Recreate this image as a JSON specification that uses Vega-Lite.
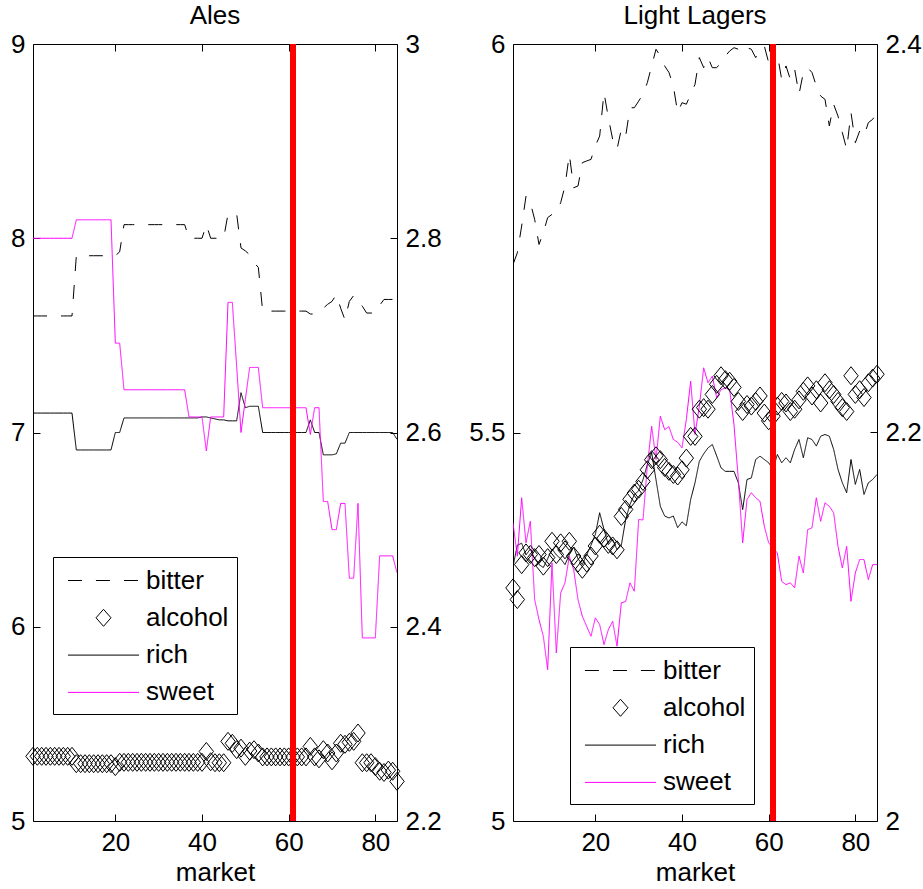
{
"$schema": "https://vega.github.io/schema/vega-lite/v6.json",
"padding": {"left": 10, "top": 3, "right": 5, "bottom": 5},
"bounds": "flush",
"spacing": 116,
"resolve": {"scale": {"color": "independent"}, "legend": {"color": "independent"}},
"datasets": {
"ales": [
{"m":1,"bitter":2.72,"alcohol":5.333,"rich":2.62,"sweet":2.8},
{"m":2,"bitter":2.72,"alcohol":5.333,"rich":2.62,"sweet":2.8},
{"m":3,"bitter":2.72,"alcohol":5.333,"rich":2.62,"sweet":2.8},
{"m":4,"bitter":2.72,"alcohol":5.333,"rich":2.62,"sweet":2.8},
{"m":5,"bitter":2.72,"alcohol":5.333,"rich":2.62,"sweet":2.8},
{"m":6,"bitter":2.72,"alcohol":5.333,"rich":2.62,"sweet":2.8},
{"m":7,"bitter":2.72,"alcohol":5.333,"rich":2.62,"sweet":2.8},
{"m":8,"bitter":2.72,"alcohol":5.333,"rich":2.62,"sweet":2.8},
{"m":9,"bitter":2.72,"alcohol":5.333,"rich":2.62,"sweet":2.8},
{"m":10,"bitter":2.72,"alcohol":5.333,"rich":2.62,"sweet":2.8},
{"m":11,"bitter":2.782,"alcohol":5.295,"rich":2.582,"sweet":2.819},
{"m":12,"bitter":2.782,"alcohol":5.295,"rich":2.582,"sweet":2.819},
{"m":13,"bitter":2.782,"alcohol":5.295,"rich":2.582,"sweet":2.819},
{"m":14,"bitter":2.782,"alcohol":5.295,"rich":2.582,"sweet":2.819},
{"m":15,"bitter":2.782,"alcohol":5.295,"rich":2.582,"sweet":2.819},
{"m":16,"bitter":2.782,"alcohol":5.295,"rich":2.582,"sweet":2.819},
{"m":17,"bitter":2.782,"alcohol":5.295,"rich":2.582,"sweet":2.819},
{"m":18,"bitter":2.782,"alcohol":5.295,"rich":2.582,"sweet":2.819},
{"m":19,"bitter":2.782,"alcohol":5.295,"rich":2.582,"sweet":2.819},
{"m":20,"bitter":2.782,"alcohol":5.28,"rich":2.6,"sweet":2.692},
{"m":21,"bitter":2.786,"alcohol":5.302,"rich":2.6,"sweet":2.692},
{"m":22,"bitter":2.814,"alcohol":5.302,"rich":2.615,"sweet":2.644},
{"m":23,"bitter":2.814,"alcohol":5.302,"rich":2.615,"sweet":2.644},
{"m":24,"bitter":2.814,"alcohol":5.302,"rich":2.615,"sweet":2.644},
{"m":25,"bitter":2.814,"alcohol":5.302,"rich":2.615,"sweet":2.644},
{"m":26,"bitter":2.814,"alcohol":5.302,"rich":2.615,"sweet":2.644},
{"m":27,"bitter":2.814,"alcohol":5.302,"rich":2.615,"sweet":2.644},
{"m":28,"bitter":2.814,"alcohol":5.302,"rich":2.615,"sweet":2.644},
{"m":29,"bitter":2.814,"alcohol":5.302,"rich":2.615,"sweet":2.644},
{"m":30,"bitter":2.814,"alcohol":5.302,"rich":2.615,"sweet":2.644},
{"m":31,"bitter":2.814,"alcohol":5.302,"rich":2.615,"sweet":2.644},
{"m":32,"bitter":2.814,"alcohol":5.302,"rich":2.615,"sweet":2.644},
{"m":33,"bitter":2.814,"alcohol":5.302,"rich":2.615,"sweet":2.644},
{"m":34,"bitter":2.814,"alcohol":5.302,"rich":2.615,"sweet":2.644},
{"m":35,"bitter":2.814,"alcohol":5.302,"rich":2.615,"sweet":2.644},
{"m":36,"bitter":2.814,"alcohol":5.302,"rich":2.615,"sweet":2.644},
{"m":37,"bitter":2.8,"alcohol":5.302,"rich":2.615,"sweet":2.616},
{"m":38,"bitter":2.8,"alcohol":5.302,"rich":2.615,"sweet":2.616},
{"m":39,"bitter":2.8,"alcohol":5.302,"rich":2.615,"sweet":2.616},
{"m":40,"bitter":2.8,"alcohol":5.302,"rich":2.616,"sweet":2.616},
{"m":41,"bitter":2.814,"alcohol":5.358,"rich":2.616,"sweet":2.581},
{"m":42,"bitter":2.8,"alcohol":5.305,"rich":2.615,"sweet":2.616},
{"m":43,"bitter":2.8,"alcohol":5.3,"rich":2.614,"sweet":2.616},
{"m":44,"bitter":2.8,"alcohol":5.3,"rich":2.613,"sweet":2.616},
{"m":45,"bitter":2.8,"alcohol":5.3,"rich":2.613,"sweet":2.616},
{"m":46,"bitter":2.825,"alcohol":5.41,"rich":2.612,"sweet":2.734},
{"m":47,"bitter":2.825,"alcohol":5.4,"rich":2.612,"sweet":2.734},
{"m":48,"bitter":2.825,"alcohol":5.367,"rich":2.612,"sweet":2.668},
{"m":49,"bitter":2.79,"alcohol":5.375,"rich":2.641,"sweet":2.6},
{"m":50,"bitter":2.787,"alcohol":5.333,"rich":2.6255,"sweet":2.634},
{"m":51,"bitter":2.783,"alcohol":5.36,"rich":2.627,"sweet":2.667},
{"m":52,"bitter":2.775,"alcohol":5.367,"rich":2.627,"sweet":2.667},
{"m":53,"bitter":2.77,"alcohol":5.35,"rich":2.627,"sweet":2.667},
{"m":54,"bitter":2.725,"alcohol":5.33,"rich":2.6,"sweet":2.6255},
{"m":55,"bitter":2.725,"alcohol":5.33,"rich":2.6,"sweet":2.6255},
{"m":56,"bitter":2.725,"alcohol":5.33,"rich":2.6,"sweet":2.6255},
{"m":57,"bitter":2.725,"alcohol":5.33,"rich":2.6,"sweet":2.6255},
{"m":58,"bitter":2.725,"alcohol":5.33,"rich":2.6,"sweet":2.6255},
{"m":59,"bitter":2.725,"alcohol":5.33,"rich":2.6,"sweet":2.6255},
{"m":60,"bitter":2.725,"alcohol":5.33,"rich":2.6,"sweet":2.6255},
{"m":61,"bitter":2.725,"alcohol":5.33,"rich":2.6,"sweet":2.6255},
{"m":62,"bitter":2.725,"alcohol":5.33,"rich":2.6,"sweet":2.6255},
{"m":63,"bitter":2.725,"alcohol":5.33,"rich":2.6,"sweet":2.6255},
{"m":64,"bitter":2.725,"alcohol":5.33,"rich":2.6,"sweet":2.6255},
{"m":65,"bitter":2.722,"alcohol":5.384,"rich":2.613,"sweet":2.598},
{"m":66,"bitter":2.722,"alcohol":5.33,"rich":2.6,"sweet":2.6255},
{"m":67,"bitter":2.725,"alcohol":5.32,"rich":2.6,"sweet":2.6255},
{"m":68,"bitter":2.728,"alcohol":5.367,"rich":2.577,"sweet":2.529},
{"m":69,"bitter":2.732,"alcohol":5.35,"rich":2.577,"sweet":2.529},
{"m":70,"bitter":2.735,"alcohol":5.31,"rich":2.577,"sweet":2.5},
{"m":71,"bitter":2.742,"alcohol":5.35,"rich":2.578,"sweet":2.5},
{"m":72,"bitter":2.728,"alcohol":5.4,"rich":2.589,"sweet":2.527},
{"m":73,"bitter":2.716,"alcohol":5.395,"rich":2.589,"sweet":2.527},
{"m":74,"bitter":2.735,"alcohol":5.405,"rich":2.6,"sweet":2.45},
{"m":75,"bitter":2.741,"alcohol":5.41,"rich":2.6,"sweet":2.45},
{"m":76,"bitter":2.738,"alcohol":5.453,"rich":2.6,"sweet":2.527},
{"m":77,"bitter":2.73,"alcohol":5.3,"rich":2.6,"sweet":2.3885},
{"m":78,"bitter":2.723,"alcohol":5.3,"rich":2.6,"sweet":2.3885},
{"m":79,"bitter":2.723,"alcohol":5.3,"rich":2.6,"sweet":2.3885},
{"m":80,"bitter":2.723,"alcohol":5.28,"rich":2.6,"sweet":2.3885},
{"m":81,"bitter":2.731,"alcohol":5.256,"rich":2.6,"sweet":2.473},
{"m":82,"bitter":2.737,"alcohol":5.25,"rich":2.6,"sweet":2.473},
{"m":83,"bitter":2.737,"alcohol":5.262,"rich":2.6,"sweet":2.473},
{"m":84,"bitter":2.737,"alcohol":5.256,"rich":2.6,"sweet":2.473},
{"m":85,"bitter":2.728,"alcohol":5.204,"rich":2.593,"sweet":2.4555}
],
"lagers": [
{"m":1,"bitter":2.2865,"alcohol":5.3,"rich":2.131,"sweet":2.1535},
{"m":2,"bitter":2.2925,"alcohol":5.285,"rich":2.142,"sweet":2.1363},
{"m":3,"bitter":2.3063,"alcohol":5.33,"rich":2.143,"sweet":2.1664},
{"m":4,"bitter":2.3217,"alcohol":5.345,"rich":2.137,"sweet":2.1432},
{"m":5,"bitter":2.3183,"alcohol":5.343,"rich":2.14,"sweet":2.1543},
{"m":6,"bitter":2.3097,"alcohol":5.339,"rich":2.135,"sweet":2.114},
{"m":7,"bitter":2.2968,"alcohol":5.343,"rich":2.132,"sweet":2.1037},
{"m":8,"bitter":2.3029,"alcohol":5.328,"rich":2.1305,"sweet":2.0951},
{"m":9,"bitter":2.3106,"alcohol":5.339,"rich":2.135,"sweet":2.0779},
{"m":10,"bitter":2.3123,"alcohol":5.36,"rich":2.14,"sweet":2.1329},
{"m":11,"bitter":2.3132,"alcohol":5.343,"rich":2.137,"sweet":2.0865},
{"m":12,"bitter":2.3183,"alcohol":5.358,"rich":2.135,"sweet":2.1174},
{"m":13,"bitter":2.3269,"alcohol":5.349,"rich":2.132,"sweet":2.1226},
{"m":14,"bitter":2.3432,"alcohol":5.36,"rich":2.137,"sweet":2.1363},
{"m":15,"bitter":2.326,"alcohol":5.341,"rich":2.141,"sweet":2.1294},
{"m":16,"bitter":2.3269,"alcohol":5.332,"rich":2.135,"sweet":2.114},
{"m":17,"bitter":2.3389,"alcohol":5.324,"rich":2.132,"sweet":2.1054},
{"m":18,"bitter":2.3398,"alcohol":5.332,"rich":2.137,"sweet":2.1002},
{"m":19,"bitter":2.3406,"alcohol":5.341,"rich":2.142,"sweet":2.0951},
{"m":20,"bitter":2.3475,"alcohol":5.354,"rich":2.1475,"sweet":2.1046},
{"m":21,"bitter":2.3526,"alcohol":5.369,"rich":2.1587,"sweet":2.1011},
{"m":22,"bitter":2.375,"alcohol":5.364,"rich":2.15,"sweet":2.0908},
{"m":23,"bitter":2.3621,"alcohol":5.356,"rich":2.1423,"sweet":2.0985},
{"m":24,"bitter":2.3509,"alcohol":5.354,"rich":2.145,"sweet":2.1028},
{"m":25,"bitter":2.3458,"alcohol":5.349,"rich":2.1397,"sweet":2.09},
{"m":26,"bitter":2.3561,"alcohol":5.392,"rich":2.142,"sweet":2.1123},
{"m":27,"bitter":2.3526,"alcohol":5.401,"rich":2.1552,"sweet":2.113},
{"m":28,"bitter":2.3672,"alcohol":5.414,"rich":2.163,"sweet":2.1226},
{"m":29,"bitter":2.3672,"alcohol":5.422,"rich":2.168,"sweet":2.1183},
{"m":30,"bitter":2.3706,"alcohol":5.427,"rich":2.17,"sweet":2.1552},
{"m":31,"bitter":2.3741,"alcohol":5.437,"rich":2.1757,"sweet":2.155},
{"m":32,"bitter":2.3801,"alcohol":5.452,"rich":2.1835,"sweet":2.1827},
{"m":33,"bitter":2.3887,"alcohol":5.465,"rich":2.1895,"sweet":2.2032},
{"m":34,"bitter":2.3973,"alcohol":5.47,"rich":2.1757,"sweet":2.1861},
{"m":35,"bitter":2.3938,"alcohol":5.465,"rich":2.162,"sweet":2.2084},
{"m":36,"bitter":2.3887,"alcohol":5.455,"rich":2.157,"sweet":2.2015},
{"m":37,"bitter":2.3853,"alcohol":5.45,"rich":2.156,"sweet":2.203},
{"m":38,"bitter":2.3784,"alcohol":5.446,"rich":2.157,"sweet":2.1964},
{"m":39,"bitter":2.3647,"alcohol":5.444,"rich":2.151,"sweet":2.195},
{"m":40,"bitter":2.3698,"alcohol":5.452,"rich":2.154,"sweet":2.1921},
{"m":41,"bitter":2.369,"alcohol":5.467,"rich":2.152,"sweet":2.2067},
{"m":42,"bitter":2.3741,"alcohol":5.495,"rich":2.1655,"sweet":2.2264},
{"m":43,"bitter":2.3792,"alcohol":5.495,"rich":2.1741,"sweet":2.199},
{"m":44,"bitter":2.393,"alcohol":5.53,"rich":2.1852,"sweet":2.2135},
{"m":45,"bitter":2.3878,"alcohol":5.532,"rich":2.189,"sweet":2.2333},
{"m":46,"bitter":2.393,"alcohol":5.53,"rich":2.1921,"sweet":2.2256},
{"m":47,"bitter":2.3878,"alcohol":5.549,"rich":2.1938,"sweet":2.229},
{"m":48,"bitter":2.3878,"alcohol":5.562,"rich":2.188,"sweet":2.2179},
{"m":49,"bitter":2.3904,"alcohol":5.573,"rich":2.1818,"sweet":2.222},
{"m":50,"bitter":2.3938,"alcohol":5.568,"rich":2.18,"sweet":2.223},
{"m":51,"bitter":2.3964,"alcohol":5.566,"rich":2.18,"sweet":2.222},
{"m":52,"bitter":2.3981,"alcohol":5.558,"rich":2.18,"sweet":2.204},
{"m":53,"bitter":2.3973,"alcohol":5.54,"rich":2.1741,"sweet":2.1758},
{"m":54,"bitter":2.3956,"alcohol":5.527,"rich":2.1603,"sweet":2.1432},
{"m":55,"bitter":2.3981,"alcohol":5.536,"rich":2.1758,"sweet":2.1655},
{"m":56,"bitter":2.3973,"alcohol":5.534,"rich":2.1766,"sweet":2.169},
{"m":57,"bitter":2.393,"alcohol":5.54,"rich":2.1861,"sweet":2.1664},
{"m":58,"bitter":2.3973,"alcohol":5.547,"rich":2.1878,"sweet":2.1646},
{"m":59,"bitter":2.399,"alcohol":5.525,"rich":2.1861,"sweet":2.1517},
{"m":60,"bitter":2.3904,"alcohol":5.515,"rich":2.1844,"sweet":2.1432},
{"m":61,"bitter":2.4,"alcohol":5.521,"rich":2.181,"sweet":2.1406},
{"m":62,"bitter":2.3947,"alcohol":5.534,"rich":2.1887,"sweet":2.138},
{"m":63,"bitter":2.3818,"alcohol":5.54,"rich":2.1844,"sweet":2.1234},
{"m":64,"bitter":2.3887,"alcohol":5.538,"rich":2.187,"sweet":2.1217},
{"m":65,"bitter":2.3818,"alcohol":5.527,"rich":2.1844,"sweet":2.1226},
{"m":66,"bitter":2.387,"alcohol":5.53,"rich":2.1913,"sweet":2.12},
{"m":67,"bitter":2.3741,"alcohol":5.542,"rich":2.1964,"sweet":2.1363},
{"m":68,"bitter":2.3853,"alcohol":5.553,"rich":2.187,"sweet":2.1277},
{"m":69,"bitter":2.3878,"alcohol":5.56,"rich":2.1973,"sweet":2.15},
{"m":70,"bitter":2.3853,"alcohol":5.547,"rich":2.1964,"sweet":2.1509},
{"m":71,"bitter":2.3784,"alcohol":5.555,"rich":2.193,"sweet":2.1664},
{"m":72,"bitter":2.3732,"alcohol":5.538,"rich":2.1981,"sweet":2.1543},
{"m":73,"bitter":2.3715,"alcohol":5.564,"rich":2.199,"sweet":2.1638},
{"m":74,"bitter":2.3578,"alcohol":5.555,"rich":2.1981,"sweet":2.162},
{"m":75,"bitter":2.3689,"alcohol":5.549,"rich":2.1913,"sweet":2.1587},
{"m":76,"bitter":2.3629,"alcohol":5.54,"rich":2.181,"sweet":2.1414},
{"m":77,"bitter":2.3544,"alcohol":5.532,"rich":2.1741,"sweet":2.1303},
{"m":78,"bitter":2.3458,"alcohol":5.527,"rich":2.169,"sweet":2.1414},
{"m":79,"bitter":2.3647,"alcohol":5.573,"rich":2.1861,"sweet":2.1131},
{"m":80,"bitter":2.3492,"alcohol":5.549,"rich":2.1733,"sweet":2.1277},
{"m":81,"bitter":2.3552,"alcohol":5.555,"rich":2.181,"sweet":2.1346},
{"m":82,"bitter":2.3526,"alcohol":5.545,"rich":2.1681,"sweet":2.1346},
{"m":83,"bitter":2.3595,"alcohol":5.564,"rich":2.1741,"sweet":2.1243},
{"m":84,"bitter":2.3612,"alcohol":5.57,"rich":2.1758,"sweet":2.132},
{"m":85,"bitter":2.3647,"alcohol":5.575,"rich":2.1784,"sweet":2.132}
]
},
"hconcat": [
{
"title": {"text": "Ales", "offset": 2},
"width": 364, "height": 777,
"data": {"name": "ales"},
"layer": [
{
"transform": [{"fold": ["bitter", "rich", "sweet"], "as": ["series", "value"]}],
"mark": {"type": "line", "strokeWidth": 1, "clip": true},
"encoding": {
"x": {"field": "m", "type": "quantitative", "scale": {"domain": [1, 85], "nice": false, "zero": false}, "axis": {"orient": "bottom", "values": [20, 40, 60, 80], "title": "market"}},
"y": {"field": "value", "type": "quantitative", "scale": {"domain": [2.2, 3], "nice": false, "zero": false}, "axis": {"orient": "right", "values": [2.2, 2.4, 2.6, 2.8, 3], "format": "~g", "title": null}},
"color": {"field": "series", "type": "nominal", "scale": {"domain": ["bitter", "alcohol", "rich", "sweet"], "range": ["black", "black", "black", "#ff00ff"]},
"legend": {"orient": "none", "legendX": 20, "legendY": 513, "title": null, "strokeColor": "black", "fillColor": "white", "padding": 8, "labelFontSize": 26, "labelLimit": 400, "symbolSize": 900, "symbolStrokeWidth": 1, "symbolType": "stroke", "rowPadding": 8.3, "symbolOffset": 27, "labelOffset": 27,
"encode": {"symbols": {"update": {"shape": {"signal": "datum.value === 'alcohol' ? 'M-0.5,0L0,-0.567L0.5,0L0,0.567Z' : 'M-2.37,0L2.37,0'"}, "strokeDash": {"signal": "datum.value === 'bitter' ? [14,14] : []"}, "fill": {"value": "transparent"}}}}}},
"strokeDash": {"field": "series", "type": "nominal", "scale": {"domain": ["bitter", "rich", "sweet"], "range": [[14, 14], [1, 0], [1, 0]]}, "legend": null}
}
},
{
"mark": {"type": "point", "shape": "M-0.8,0L0,-1L0.8,0L0,1Z", "size": 324, "filled": false, "color": "black", "strokeWidth": 1, "opacity": 1},
"encoding": {
"x": {"field": "m", "type": "quantitative", "axis": null},
"y": {"field": "alcohol", "type": "quantitative", "scale": {"domain": [5, 9], "nice": false, "zero": false}, "axis": {"orient": "left", "values": [5, 6, 7, 8, 9], "format": "~g", "title": null}}
}
},
{
"mark": {"type": "rule", "color": "#ff0000", "strokeWidth": 5},
"encoding": {"x": {"datum": 61, "type": "quantitative", "axis": {"orient": "top", "values": [20, 40, 60, 80], "labels": false, "title": null}}}
}
],
"resolve": {"scale": {"y": "independent"}, "axis": {"y": "independent", "x": "independent"}}
},
{
"title": {"text": "Light Lagers", "offset": 2},
"width": 364, "height": 777,
"data": {"name": "lagers"},
"layer": [
{
"transform": [{"fold": ["bitter", "rich", "sweet"], "as": ["series", "value"]}],
"mark": {"type": "line", "strokeWidth": 1, "clip": true},
"encoding": {
"x": {"field": "m", "type": "quantitative", "scale": {"domain": [1, 85], "nice": false, "zero": false}, "axis": {"orient": "bottom", "values": [20, 40, 60, 80], "title": "market"}},
"y": {"field": "value", "type": "quantitative", "scale": {"domain": [2, 2.4], "nice": false, "zero": false}, "axis": {"orient": "right", "values": [2, 2.2, 2.4], "format": "~g", "title": null}},
"color": {"field": "series", "type": "nominal", "scale": {"domain": ["bitter", "alcohol", "rich", "sweet"], "range": ["black", "black", "black", "#ff00ff"]},
"legend": {"orient": "none", "legendX": 57, "legendY": 603, "title": null, "strokeColor": "black", "fillColor": "white", "padding": 8, "labelFontSize": 26, "labelLimit": 400, "symbolSize": 900, "symbolStrokeWidth": 1, "symbolType": "stroke", "rowPadding": 8.3, "symbolOffset": 27, "labelOffset": 27,
"encode": {"symbols": {"update": {"shape": {"signal": "datum.value === 'alcohol' ? 'M-0.5,0L0,-0.567L0.5,0L0,0.567Z' : 'M-2.37,0L2.37,0'"}, "strokeDash": {"signal": "datum.value === 'bitter' ? [14,14] : []"}, "fill": {"value": "transparent"}}}}}},
"strokeDash": {"field": "series", "type": "nominal", "scale": {"domain": ["bitter", "rich", "sweet"], "range": [[14, 14], [1, 0], [1, 0]]}, "legend": null}
}
},
{
"mark": {"type": "point", "shape": "M-0.8,0L0,-1L0.8,0L0,1Z", "size": 324, "filled": false, "color": "black", "strokeWidth": 1, "opacity": 1},
"encoding": {
"x": {"field": "m", "type": "quantitative", "axis": null},
"y": {"field": "alcohol", "type": "quantitative", "scale": {"domain": [5, 6], "nice": false, "zero": false}, "axis": {"orient": "left", "values": [5, 5.5, 6], "format": "~g", "title": null}}
}
},
{
"mark": {"type": "rule", "color": "#ff0000", "strokeWidth": 5},
"encoding": {"x": {"datum": 61, "type": "quantitative", "axis": {"orient": "top", "values": [20, 40, 60, 80], "labels": false, "title": null}}}
}
],
"resolve": {"scale": {"y": "independent"}, "axis": {"y": "independent", "x": "independent"}}
}
],
"config": {
"font": "Liberation Sans",
"view": {"stroke": null},
"axis": {"grid": false, "domainColor": "black", "tickColor": "black", "labelColor": "black", "titleColor": "black", "labelFontSize": 26, "titleFontSize": 26, "titleFontWeight": "normal", "tickSize": -7, "labelPadding": 15, "domainWidth": 1, "tickWidth": 1},
"title": {"fontSize": 26, "fontWeight": "normal", "color": "black", "font": "Liberation Sans"},
"legend": {"labelColor": "black", "labelFont": "Liberation Sans"}
}
}
